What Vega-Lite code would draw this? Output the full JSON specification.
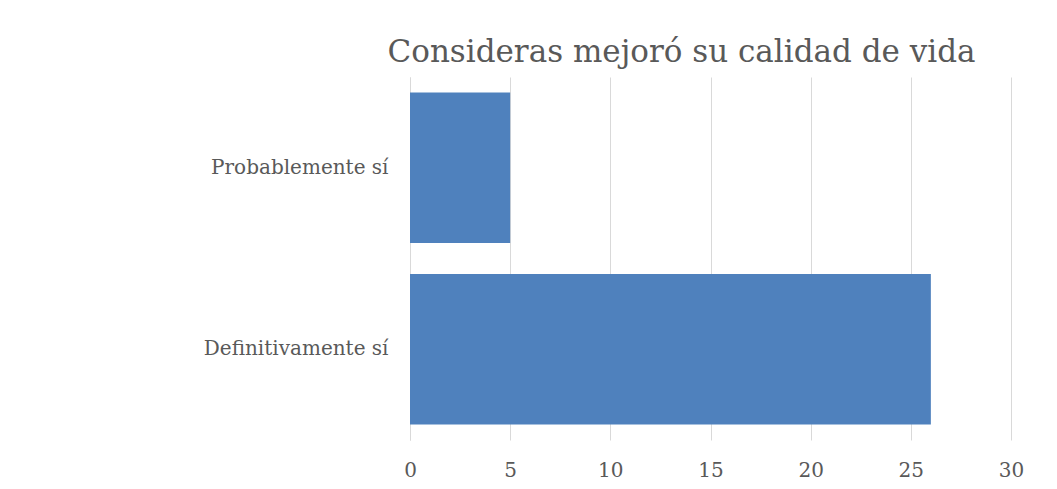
{
  "$schema": "https://vega.github.io/schema/vega-lite/v6.json",
  "width": 601,
  "height": 363,
  "autosize": {"type": "none"},
  "padding": {"left": 410, "top": 77, "right": 46, "bottom": 49},
  "background": "white",
  "title": {
    "text": "Consideras mejoró su calidad de vida",
    "font": "DejaVu Serif",
    "fontSize": 31,
    "fontWeight": "normal",
    "color": "#595959",
    "anchor": "middle",
    "baseline": "alphabetic",
    "offset": 15,
    "dx": -29,
    "dy": 31
  },
  "data": {
    "values": [
      {"respuesta": "Probablemente sí", "valor": 5},
      {"respuesta": "Definitivamente sí", "valor": 26}
    ]
  },
  "mark": {"type": "bar", "color": "#4F81BD"},
  "encoding": {
    "y": {
      "field": "respuesta",
      "type": "nominal",
      "sort": ["Probablemente sí", "Definitivamente sí"],
      "scale": {"paddingInner": 0.17, "paddingOuter": 0.085},
      "axis": {
        "title": null,
        "ticks": false,
        "domain": true,
        "domainColor": "#d9d9d9",
        "domainWidth": 1,
        "labelFont": "DejaVu Serif",
        "labelFontSize": 20,
        "labelColor": "#595959",
        "labelPadding": 22,
        "labelLimit": 400,
        "grid": false
      }
    },
    "x": {
      "field": "valor",
      "type": "quantitative",
      "scale": {"domain": [0, 30], "nice": false},
      "axis": {
        "title": null,
        "values": [0, 5, 10, 15, 20, 25, 30],
        "domain": false,
        "ticks": false,
        "grid": true,
        "gridColor": "#d9d9d9",
        "gridWidth": 1,
        "labelFont": "DejaVu Serif",
        "labelFontSize": 20,
        "labelColor": "#595959",
        "labelPadding": 20,
        "labelFlush": false
      }
    }
  },
  "config": {"view": {"stroke": null}}
}
